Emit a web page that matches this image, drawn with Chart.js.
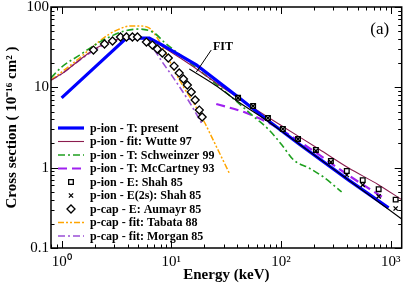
<!DOCTYPE html>
<html>
<head>
<meta charset="utf-8">
<script src="https://cdn.jsdelivr.net/npm/chart.js@4.4.1/dist/chart.umd.min.js"></script>
<style>
  html, body { margin: 0; padding: 0; background: #fff; }
  canvas { display: block; }
</style>
</head>
<body>
<canvas id="chart" width="407" height="288"></canvas>
<script>
// --- data (energy in keV, cross section in 1e-16 cm^2) ---
const presentE   = [1, 3.9, 6.3, 8.3, 16.9, 41.5, 73, 146, 414, 956];
const presentSig = [7.4, 41, 41, 33.6, 19, 7.4, 4.03, 1.97, 0.70, 0.316];

const wutteE   = [0.8, 1.0, 1.46, 2.0, 2.73, 3.73, 5.1, 7.0, 9.9, 14.6, 27.3, 51, 102, 221, 414, 778, 1259];
const wutteSig = [12.3, 14.7, 21.9, 30.0, 36.6, 41.1, 41.1, 36.6, 27.5, 19.5, 10.7, 6.03, 3.30, 1.71, 0.99, 0.61, 0.40];

const schweinzerE   = [0.8, 1.0, 1.46, 2.0, 2.73, 3.73, 5.1, 7.0, 8.6, 14.6, 33.7, 57, 78, 102, 131, 180, 245, 357];
const schweinzerSig = [13.1, 17.9, 25.2, 33.6, 42.3, 50.2, 53.2, 47.4, 36.6, 20.6, 8.0, 4.27, 2.94, 1.91, 1.24, 0.99, 0.76, 0.50];

const mccartneyE   = [25.7, 46, 78, 146, 414, 864];
const mccartneySig = [6.2, 4.92, 3.59, 2.14, 0.80, 0.42];

const shahE      = [40.6, 55.7, 76, 104, 143, 208, 285, 398, 556, 777, 1110];
const shahSig    = [7.4, 5.85, 4.15, 3.03, 2.27, 1.66, 1.21, 0.91, 0.70, 0.54, 0.40];
const shah2sSig  = [7.4, 5.85, 4.15, 3.03, 2.27, 1.62, 1.17, 0.81, 0.61, 0.44, 0.31];

const aumayrE   = [1.95, 2.46, 2.91, 3.44, 3.90, 4.42, 4.91, 5.93, 6.72, 7.46, 8.28, 9.39, 10.6, 11.8, 12.9, 14.0, 15.2, 16.5, 18.0, 19.1];
const aumayrSig = [29.1, 34.6, 37.7, 42.3, 42.3, 42.3, 42.3, 36.6, 33.6, 30.0, 26.7, 23.2, 18.4, 15.1, 12.7, 10.7, 8.74, 6.95, 5.21, 4.27];

const tabataE   = [0.8, 1.0, 1.46, 2.0, 2.73, 3.37, 4.15, 5.12, 6.31, 7.46, 8.63, 10.6, 13.1, 16.2, 20.0, 24.6, 33.7];
const tabataSig = [12.3, 15.5, 23.2, 33.6, 46.1, 53.2, 58.0, 58.0, 54.7, 41.1, 29.1, 16.4, 9.8, 6.2, 3.70, 2.08, 0.86];

const morganE   = [0.8, 1.0, 1.46, 2.0, 2.73, 3.73, 4.6, 5.7, 7.0, 8.28, 10.2, 14.6, 19.1];
const morganSig = [12.3, 14.7, 21.9, 29.1, 36.6, 41.1, 42.3, 38.8, 29.1, 20.6, 13.8, 6.56, 3.49];

const fitE   = [14.6, 25, 41, 73, 146, 414, 1259];
const fitSig = [16.9, 10.7, 6.56, 3.92, 1.97, 0.70, 0.23];

const legendLabels = [
  'p-ion - T: present',
  'p-ion - fit: Wutte 97',
  'p-ion - T: Schweinzer 99',
  'p-ion - T: McCartney 93',
  'p-ion - E: Shah 85',
  'p-ion - E(2s): Shah 85',
  'p-cap - E: Aumayr 85',
  'p-cap - fit: Tabata 88',
  'p-cap - fit: Morgan 85'
];

const xTickValues = [1, 10, 100, 1000];
const xTickLabels = ['10\u2070', '10\u00b9', '10\u00b2', '10\u00b3'];
const yTickValues = [0.1, 1, 10, 100];
const yTickLabels = ['0.1', '1', '10', '100'];

// annotation anchors (in data units)
const fitTextAt  = [29.6, 31.8];
const fitArrow   = [[23.1, 29.1], [16.9, 15.5]];

const serif = "'Liberation Serif', 'Times New Roman', serif";

function pts(xs, ys) {
  return xs.map((v, i) => ({ x: v, y: ys[i] }));
}

function lineSet(label, xs, ys, color, width, dash, order, smooth) {
  const d = {
    label: label, data: pts(xs, ys), showLine: true,
    borderColor: color, backgroundColor: color, borderWidth: width,
    borderDash: dash, pointRadius: 0, tension: 0, order: order
  };
  if (smooth) d.cubicInterpolationMode = 'monotone';
  return d;
}

function markSet(label, xs, ys, style, radius, order) {
  return {
    label: label, data: pts(xs, ys), showLine: false,
    pointStyle: style, pointRadius: radius, pointBorderWidth: 1.3,
    borderColor: '#000', backgroundColor: '#fff', order: order
  };
}

const datasets = [
  lineSet(legendLabels[0], presentE, presentSig, '#0000ff', 3.2, [], 3, false),
  lineSet(legendLabels[1], wutteE, wutteSig, '#8b1c4e', 1.1, [], 4, true),
  lineSet(legendLabels[2], schweinzerE, schweinzerSig, '#1fa01f', 1.6, [7, 3, 2, 3], 5, true),
  lineSet(legendLabels[3], mccartneyE, mccartneySig, '#a020f0', 2.2, [9, 5], 5, true),
  markSet(legendLabels[4], shahE, shahSig, 'rect', 3.3, 1),
  markSet(legendLabels[5], shahE, shah2sSig, 'crossRot', 3, 0),
  markSet(legendLabels[6], aumayrE, aumayrSig, 'rectRot', 4, 1),
  lineSet(legendLabels[7], tabataE, tabataSig, '#ffa500', 1.5, [6, 2, 2, 2, 2, 2], 5, true),
  lineSet(legendLabels[8], morganE, morganSig, '#9a4fd6', 1.6, [7, 3, 2, 3], 5, true),
  lineSet('FIT', fitE, fitSig, '#000', 1.1, [], 2, true)
];

// ticks on all four sides, frame, legend, labels
const decor = {
  id: 'decor',
  afterDatasetsDraw(chart) {
    const { ctx, chartArea: a, scales } = chart;
    const sx = scales.x, sy = scales.y;
    ctx.save();
    ctx.strokeStyle = '#000';
    ctx.lineWidth = 1;
    ctx.setLineDash([]);

    function xTick(v, len) {
      const px = Math.round(sx.getPixelForValue(v)) + 0.5;
      ctx.beginPath();
      ctx.moveTo(px, a.bottom); ctx.lineTo(px, a.bottom - len);
      ctx.moveTo(px, a.top); ctx.lineTo(px, a.top + len);
      ctx.stroke();
    }
    function yTick(v, len) {
      const py = Math.round(sy.getPixelForValue(v)) + 0.5;
      ctx.beginPath();
      ctx.moveTo(a.left, py); ctx.lineTo(a.left + len, py);
      ctx.moveTo(a.right, py); ctx.lineTo(a.right - len, py);
      ctx.stroke();
    }
    for (let d = 0.1; d < 2000; d *= 10) {
      for (let k = 1; k < 10; k++) {
        const v = d * k;
        if (v >= sx.min && v <= sx.max) xTick(v, k === 1 ? 7 : 3.5);
      }
    }
    for (let d = 0.1; d < 100; d *= 10) {
      for (let k = 1; k < 10; k++) yTick(d * k, k === 1 ? 7 : 3.5);
    }
    yTick(100, 7);

    // legend
    ctx.font = 'bold 12px ' + serif;
    ctx.textBaseline = 'middle';
    ctx.fillStyle = '#000';
    legendLabels.forEach((txt, i) => {
      const ds = chart.data.datasets[i];
      const ry = a.top + 121 + i * 13.5;
      const x0 = a.left + 7, x1 = a.left + 33;
      ctx.save();
      if (ds.showLine) {
        ctx.strokeStyle = ds.borderColor;
        ctx.lineWidth = ds.borderWidth;
        ctx.setLineDash(ds.borderDash);
        ctx.beginPath();
        ctx.moveTo(x0, ry); ctx.lineTo(x1, ry);
        ctx.stroke();
      } else {
        ctx.strokeStyle = '#000';
        ctx.fillStyle = '#fff';
        ctx.lineWidth = 1.3;
        Chart.helpers.drawPoint(ctx, { pointStyle: ds.pointStyle, radius: ds.pointRadius, rotation: 0, borderWidth: 1.3 }, (x0 + x1) / 2, ry);
      }
      ctx.restore();
      ctx.fillText(txt, a.left + 39, ry + 0.5);
    });

    // FIT pointer and label
    ctx.strokeStyle = '#000';
    ctx.lineWidth = 1;
    ctx.beginPath();
    ctx.moveTo(sx.getPixelForValue(fitArrow[0][0]), sy.getPixelForValue(fitArrow[0][1]));
    ctx.lineTo(sx.getPixelForValue(fitArrow[1][0]), sy.getPixelForValue(fitArrow[1][1]));
    ctx.stroke();
    ctx.font = 'bold 12px ' + serif;
    ctx.textAlign = 'center';
    ctx.fillText('FIT', sx.getPixelForValue(fitTextAt[0]), sy.getPixelForValue(fitTextAt[1]));

    ctx.font = '17px ' + serif;
    ctx.fillText('(a)', a.right - 22, a.top + 23);

    // frame
    ctx.lineWidth = 1.5;
    ctx.strokeRect(a.left, a.top, a.right - a.left, a.bottom - a.top);
    ctx.restore();
  }
};

new Chart(document.getElementById('chart'), {
  type: 'scatter',
  data: { datasets: datasets },
  options: {
    responsive: false,
    animation: false,
    devicePixelRatio: 1,
    layout: { padding: { top: 7, right: 5, left: 0, bottom: 0 } },
    plugins: { legend: { display: false }, tooltip: { enabled: false } },
    scales: {
      x: {
        type: 'logarithmic', min: 0.8, max: 1260,
        grid: { display: false, drawTicks: false },
        border: { display: false },
        afterBuildTicks: s => { s.ticks = xTickValues.map(v => ({ value: v })); },
        afterFit: s => { s.height = 40; s.paddingLeft = 0; s.paddingRight = 0; },
        ticks: {
          autoSkip: false, maxRotation: 0, padding: 5, color: '#000',
          font: { family: serif, size: 15 },
          callback: v => xTickLabels[xTickValues.indexOf(v)]
        },
        title: {
          display: true, text: 'Energy (keV)', color: '#000',
          font: { family: serif, size: 15, weight: 'bold' },
          padding: { top: 0, bottom: 4 }
        }
      },
      y: {
        type: 'logarithmic', min: 0.1, max: 100,
        grid: { display: false, drawTicks: false },
        border: { display: false },
        afterBuildTicks: s => { s.ticks = yTickValues.map(v => ({ value: v })); },
        afterFit: s => { s.width = 51; s.paddingTop = 0; s.paddingBottom = 0; },
        ticks: {
          autoSkip: false, padding: 2, color: '#000',
          font: { family: serif, size: 15 },
          callback: v => yTickLabels[yTickValues.indexOf(v)]
        },
        title: {
          display: true, text: 'Cross section ( 10\u207b\u00b9\u2076 cm\u00b2 )', color: '#000',
          font: { family: serif, size: 15, weight: 'bold' },
          padding: { top: 3, bottom: 0 }
        }
      }
    }
  },
  plugins: [decor]
});
</script>
</body>
</html>
